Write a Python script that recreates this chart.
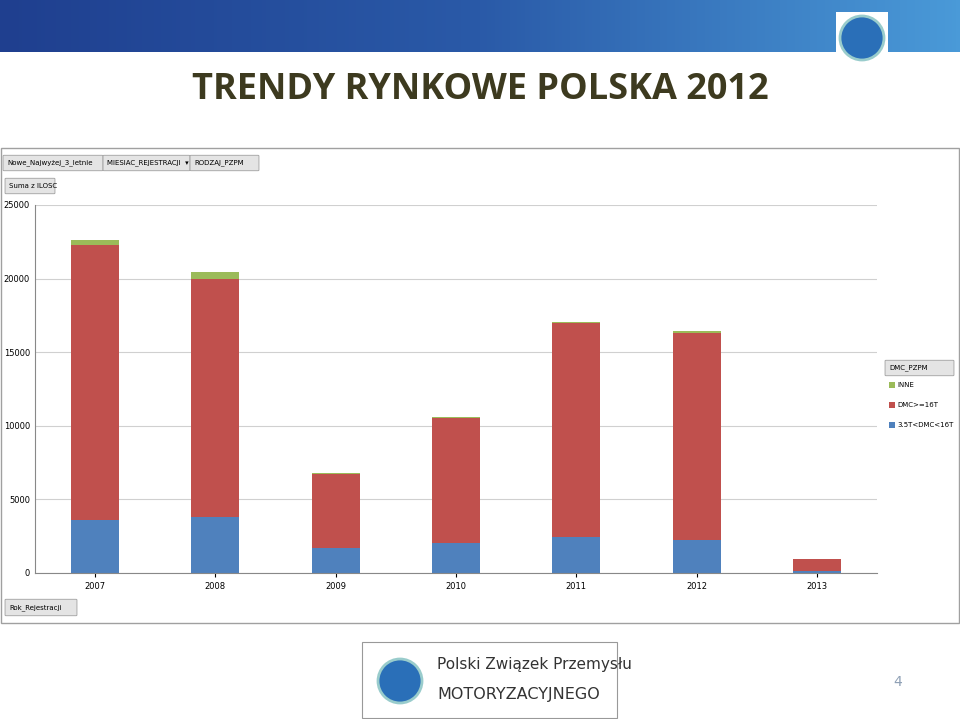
import numpy as np, pandas as pd, seaborn as sns
import matplotlib.pyplot as plt
from matplotlib.patches import Rectangle, FancyBboxPatch, Ellipse
from matplotlib.colors import LinearSegmentedColormap

years = ["2007","2008","2009","2010","2011","2012","2013"]
light = [3600, 3800, 1700, 2050, 2450, 2250, 150]      # 3.5T<DMC<16T
heavy = [18680, 16200, 5000, 8450, 14550, 14050, 800]  # DMC>=16T
other = [350, 450, 120, 80, 60, 120, 20]               # INNE
yticks = [0, 5000, 10000, 15000, 20000, 25000]

fig = plt.figure(figsize=(9.6, 7.19), dpi=100)
W, H = 960, 719
def fx(x): return x / W
def fy(y): return 1 - y / H

bax = fig.add_axes([0, fy(52), 1, 52 / H])
grad = np.linspace(0, 1, 256)[None, :]
cm = LinearSegmentedColormap.from_list("b", ["#1f3f8f", "#2a5aa8", "#4a9ad8"])
bax.imshow(grad, aspect="auto", cmap=cm, extent=[0, 1, 0, 1])
bax.axis("off")

fig.text(0.5, fy(90), "TRENDY RYNKOWE POLSKA 2012", ha="center", va="center",
         fontsize=26, fontweight="bold", color="#3d3a1f", family="Open Sans")

fig.patches.append(Rectangle((fx(1), fy(623)), fx(958), (623 - 148) / H, transform=fig.transFigure,
                             fill=False, ec="#a0a0a0", lw=1))

ax = fig.add_axes([fx(35), fy(573), fx(842), (573 - 205) / H])
df = pd.DataFrame({"year": years, "light": light, "heavy": heavy, "other": other})
df["t2"] = df.light + df.heavy
df["t3"] = df.t2 + df.other
sns.barplot(data=df, x="year", y="t3", color="#9BBB59", saturation=1, width=0.4, ax=ax)
sns.barplot(data=df, x="year", y="t2", color="#C0504D", saturation=1, width=0.4, ax=ax)
sns.barplot(data=df, x="year", y="light", color="#4F81BD", saturation=1, width=0.4, ax=ax)
ax.set_ylim(0, 25000)
ax.set_yticks(yticks)
ax.set_yticklabels([str(v) for v in yticks], fontsize=6)
ax.tick_params(axis="x", labelsize=6, length=3)
ax.tick_params(axis="y", length=0)
ax.set_xlabel(""); ax.set_ylabel("")
ax.grid(axis="y", color="#d0d0d0", lw=0.8)
ax.set_axisbelow(True)
for s in ["top", "right"]:
    ax.spines[s].set_visible(False)
ax.spines["left"].set_color("#888"); ax.spines["bottom"].set_color("#888")

def button(x, y, w, h, txt):
    fig.patches.append(FancyBboxPatch((fx(x), fy(y + h)), w / W, h / H, boxstyle="round,pad=0.001",
                       transform=fig.transFigure, fc="#e4e4e4", ec="#a0a0a0", lw=0.6))
    fig.text(fx(x + 3), fy(y + h / 2), txt, fontsize=5, va="center")

button(4, 156, 98, 14, "Nowe_Najwyżej_3_letnie")
button(104, 156, 85, 14, "MIESIAC_REJESTRACJI  ▾")
button(191, 156, 67, 14, "RODZAJ_PZPM")
button(6, 179, 48, 14, "Suma z ILOSC")
button(6, 600, 70, 15, "Rok_Rejestracji")
button(886, 361, 67, 14, "DMC_PZPM")

for i, (lab, c) in enumerate([("INNE", "#9BBB59"), ("DMC>=16T", "#C0504D"), ("3.5T<DMC<16T", "#4F81BD")]):
    y = 385 + i * 20
    fig.patches.append(Rectangle((fx(889), fy(y + 3)), 6 / W, 6 / H, transform=fig.transFigure, fc=c))
    fig.text(fx(897), fy(y), lab, fontsize=5, va="center")

fig.patches.append(Rectangle((fx(362), fy(718)), 255 / W, 76 / H, transform=fig.transFigure,
                             fill=False, ec="#999", lw=0.8))
fig.patches.append(Ellipse((fx(400), fy(681)), 44 / W, 44 / H, transform=fig.transFigure, fc="#2a6fb8", ec="#9cc", lw=2))
fig.text(fx(437), fy(664), "Polski Związek Przemysłu", fontsize=11, color="#333", va="center", family="Liberation Sans Narrow")
fig.text(fx(437), fy(695), "MOTORYZACYJNEGO", fontsize=11.5, color="#333", va="center", family="DejaVu Sans")
fig.patches.append(Rectangle((fx(836), fy(64)), 52 / W, 52 / H, transform=fig.transFigure, fc="white", ec="none"))
fig.patches.append(Ellipse((fx(862), fy(38)), 44 / W, 44 / H, transform=fig.transFigure, fc="#2a6fb8", ec="#9cc", lw=2))
fig.text(fx(898), fy(682), "4", fontsize=10, color="#8fa0b5", ha="center", va="center")

fig.savefig("out.png", dpi=100)
